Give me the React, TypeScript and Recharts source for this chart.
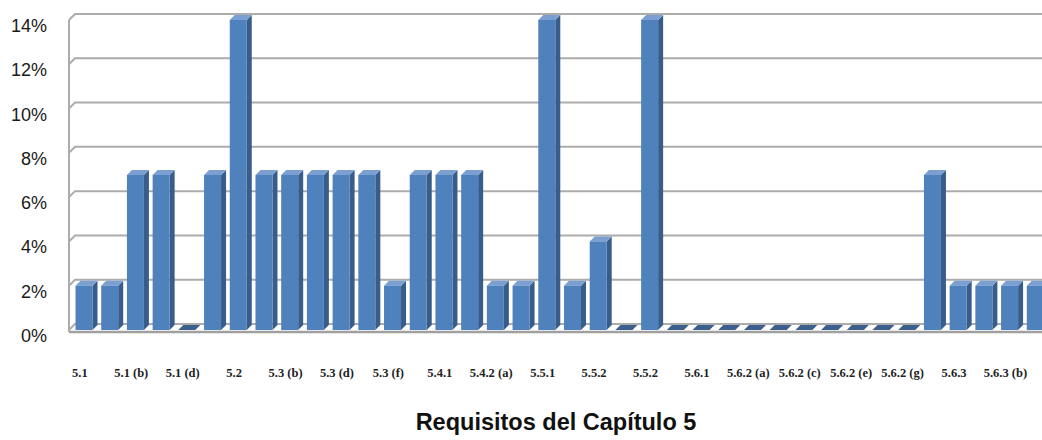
import { BarChart, Bar, XAxis, YAxis, CartesianGrid } from 'recharts'

// Requisitos del capítulo 5 y su peso relativo (%)
const categories = [
  '5.1', '5.1 (a)', '5.1 (b)', '5.1 (c)', '5.1 (d)', '5.1 (e)', '5.2', '5.3 (a)',
  '5.3 (b)', '5.3 (c)', '5.3 (d)', '5.3 (e)', '5.3 (f)', '5.4', '5.4.1', '5.4.2',
  '5.4.2 (a)', '5.4.2 (b)', '5.5.1', '5.5.1 (a)', '5.5.2', '5.5.2 (a)', '5.5.2', '5.5.3',
  '5.6.1', '5.6.2', '5.6.2 (a)', '5.6.2 (b)', '5.6.2 (c)', '5.6.2 (d)', '5.6.2 (e)', '5.6.2 (f)',
  '5.6.2 (g)', '5.6.2 (h)', '5.6.3', '5.6.3 (a)', '5.6.3 (b)', '5.6.3 (c)',
]
const shares = [
  2, 2, 7, 7, 0, 7, 14, 7,
  7, 7, 7, 7, 2, 7, 7, 7,
  2, 2, 14, 2, 4, 0, 14, 0,
  0, 0, 0, 0, 0, 0, 0, 0,
  0, 7, 2, 2, 2, 2,
]
const yTicks = [0, 2, 4, 6, 8, 10, 12, 14]

const data = categories.map((name, i) => ({ name, share: shares[i] }))

// look of the pseudo-3D columns
const FRONT = '#4F81BD'
const SIDE = '#385D8A'
const TOP = '#7A9FD0'
const FLAT = '#3C5F8E'
const DX = 5
const DY = 5
const FACE_W = 17
const WALL_X = 69
const FLOOR_Y = 330

function Column3D(props: any) {
  const { x, y, height } = props
  const fx = x + 1.5
  const bottom = y + height
  if (height < 0.5) {
    // empty requirement: only the flat top face on the floor
    return (
      <polygon
        points={`${fx},${bottom} ${fx + FACE_W},${bottom} ${fx + FACE_W + DX},${bottom - DY} ${fx + DX},${bottom - DY}`}
        fill={FLAT}
      />
    )
  }
  return (
    <g>
      <polygon
        points={`${fx + FACE_W},${y} ${fx + FACE_W + DX},${y - DY} ${fx + FACE_W + DX},${bottom - DY} ${fx + FACE_W},${bottom}`}
        fill={SIDE}
      />
      <polygon
        points={`${fx},${y} ${fx + DX},${y - DY} ${fx + FACE_W + DX},${y - DY} ${fx + FACE_W},${y}`}
        fill={TOP}
      />
      <rect x={fx} y={y} width={FACE_W} height={height} fill={FRONT} />
    </g>
  )
}

// gridlines sit on the back wall, with a short slant across the side wall
const wallLine = (p: any) => {
  const y = p.y1
  const line = (
    <polyline
      key={`h-${y}`}
      points={`${WALL_X},${y} ${WALL_X + 6},${y - 6} 1060,${y - 6}`}
      fill="none"
      stroke="#ACACAC"
      strokeWidth={2}
    />
  )
  if (Math.abs(y - FLOOR_Y) > 1) return line
  return (
    <g key={`floor-${y}`}>
      {line}
      <line x1={WALL_X} y1={20} x2={WALL_X} y2={FLOOR_Y + 2} stroke="#ACACAC" strokeWidth={2} />
      <line x1={WALL_X} y1={FLOOR_Y + 2} x2={1060} y2={FLOOR_Y + 2} stroke="#A0A0A0" strokeWidth={2.5} />
    </g>
  )
}

const PercentTick = ({ y, payload }: any) => (
  <text x={47} y={y + 12} textAnchor="end" fill="#1a1a1a" fontSize={18} fontFamily="'Liberation Sans', Arial, sans-serif">
    {payload.value}%
  </text>
)

const CategoryTick = ({ x, payload }: any) => (
  <text x={x - 7} y={377} textAnchor="middle" fill="#222" fontSize={12.5} fontWeight="bold" fontFamily="'Liberation Serif', serif">
    {payload.value}
  </text>
)

export default function App() {
  return (
    <div style={{ position: 'absolute', left: 0, top: 0, width: 1042, height: 440, overflow: 'hidden', background: '#fff' }}>
      <BarChart width={1060} height={440} data={data} margin={{ top: 20, right: 9, left: 0, bottom: 50 }} barCategoryGap={0} barGap={0}>
        <CartesianGrid vertical={false} horizontal={wallLine} />
        <XAxis
          dataKey="name"
          height={60}
          interval={1}
          padding={{ left: 5, right: 0 }}
          axisLine={false}
          tickLine={false}
          tick={<CategoryTick />}
        />
        <YAxis
          width={69}
          domain={[0, 14]}
          ticks={yTicks}
          axisLine={false}
          tickLine={false}
          tick={<PercentTick />}
        />
        <Bar dataKey="share" shape={<Column3D />} isAnimationActive={false} />
      </BarChart>
      <div
        style={{
          position: 'absolute',
          left: 0,
          top: 410,
          width: 1112,
          textAlign: 'center',
          fontFamily: "'Liberation Sans', Arial, sans-serif",
          fontWeight: 'bold',
          fontSize: 23.5,
          lineHeight: '24px',
          color: '#111',
        }}
      >
        Requisitos del Capítulo 5
      </div>
    </div>
  )
}
